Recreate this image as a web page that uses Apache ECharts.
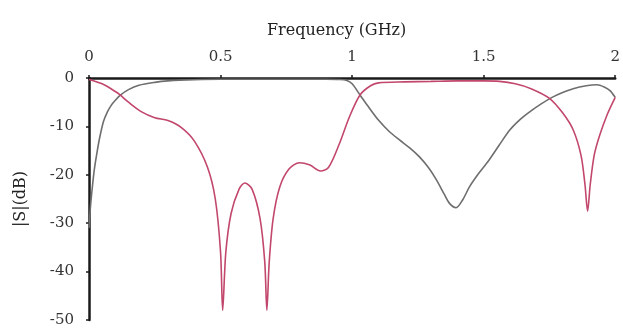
<!DOCTYPE html>
<html><head><meta charset="utf-8">
<script src="https://cdn.jsdelivr.net/npm/echarts@6/dist/echarts.min.js"></script>
<style>html,body{margin:0;padding:0;background:#fff}#c{width:623px;height:328px}</style>
</head><body><div id="c"></div>
<script>
var xTicks = [0, 0.5, 1, 1.5, 2];
var yTicks = [0, -10, -20, -30, -40, -50];
var grayFreq = [0,0.005,0.01,0.02,0.03,0.04,0.055,0.07,0.085,0.1,0.118,0.15,0.19,0.25,0.3,0.4,0.5,0.6,0.7,0.8,0.9,0.95,0.98,1.0,1.03,1.06,1.10,1.14,1.18,1.22,1.256,1.29,1.32,1.35,1.37,1.395,1.42,1.446,1.48,1.52,1.56,1.60,1.64,1.68,1.72,1.76,1.80,1.84,1.89,1.93,1.96,1.98,2.0];
var grayDb = [-31,-27,-24,-19,-15.5,-12.5,-9,-7,-5.6,-4.6,-3.6,-2.4,-1.5,-0.9,-0.6,-0.35,-0.25,-0.25,-0.25,-0.25,-0.25,-0.3,-0.5,-1.2,-3.5,-5.8,-8.7,-11,-12.8,-14.5,-16.3,-18.5,-21,-24,-25.9,-26.8,-25.2,-22.5,-19.8,-17,-13.8,-10.7,-8.5,-6.8,-5.3,-4.0,-3.0,-2.2,-1.6,-1.4,-1.9,-2.6,-4];
var pinkFreq = [0,0.05,0.1,0.118,0.15,0.2,0.25,0.3,0.35,0.4,0.45,0.48,0.5,0.508,0.52,0.54,0.57,0.592,0.62,0.65,0.668,0.676,0.685,0.70,0.725,0.76,0.80,0.84,0.88,0.91,0.95,0.99,1.03,1.07,1.1,1.2,1.3,1.4,1.5,1.56,1.62,1.68,1.75,1.80,1.84,1.87,1.885,1.895,1.905,1.92,1.94,1.97,2.0];
var pinkDb = [-0.3,-1.2,-2.8,-3.5,-5,-7,-8.2,-8.8,-10.2,-13,-18.4,-25,-36,-48,-36,-28,-23,-21.7,-23,-29,-38,-48,-38,-29,-22.5,-18.8,-17.5,-18,-19.2,-18.5,-13.8,-8,-3.5,-1.6,-1,-0.8,-0.7,-0.6,-0.6,-0.7,-1.2,-2.2,-4.2,-7.2,-10.7,-16,-22,-27.5,-22,-16,-12,-7.5,-4];

function pairs(xs, ys){ return xs.map(function(x,i){ return [x, ys[i]]; }); }
var font = 'DejaVu Serif';
var chart = echarts.init(document.getElementById('c'));
chart.setOption({
  animation: false,
  title: { text: 'Frequency (GHz)', left: 262, top: 18,
    textStyle: { fontFamily: font, fontSize: 16, fontWeight: 'normal', color: '#222' } },
  grid: { left: 89, right: 7, top: 78, bottom: 8 },
  xAxis: { type: 'value', position: 'top', min: xTicks[0], max: xTicks[xTicks.length-1], interval: 0.5,
    axisLine: { lineStyle: { color: '#1a1a1a', width: 2.5 } },
    axisTick: { show: true, length: 3, lineStyle: { color: '#1a1a1a', width: 1.5 } },
    axisLabel: { fontFamily: font, fontSize: 15, color: '#333', margin: 13 },
    splitLine: { show: false } },
  yAxis: { type: 'value', min: yTicks[yTicks.length-1], max: yTicks[0], interval: 10,
    name: '|S|(dB)', nameLocation: 'middle', nameGap: 60, nameRotate: 90,
    nameTextStyle: { fontFamily: font, fontSize: 16, color: '#222' },
    axisLine: { lineStyle: { color: '#1a1a1a', width: 2.5 } },
    axisTick: { show: true, length: 3, lineStyle: { color: '#1a1a1a', width: 1.5 } },
    axisLabel: { fontFamily: font, fontSize: 15, color: '#333', margin: 15 },
    splitLine: { show: false } },
  series: [
    { type: 'line', data: pairs(grayFreq, grayDb), smooth: 0.3, showSymbol: false,
      lineStyle: { color: '#6e6e6e', width: 1.6 } },
    { type: 'line', data: pairs(pinkFreq, pinkDb), smooth: 0.3, showSymbol: false,
      lineStyle: { color: '#c2476c', width: 1.6 } }
  ]
});
</script></body></html>
